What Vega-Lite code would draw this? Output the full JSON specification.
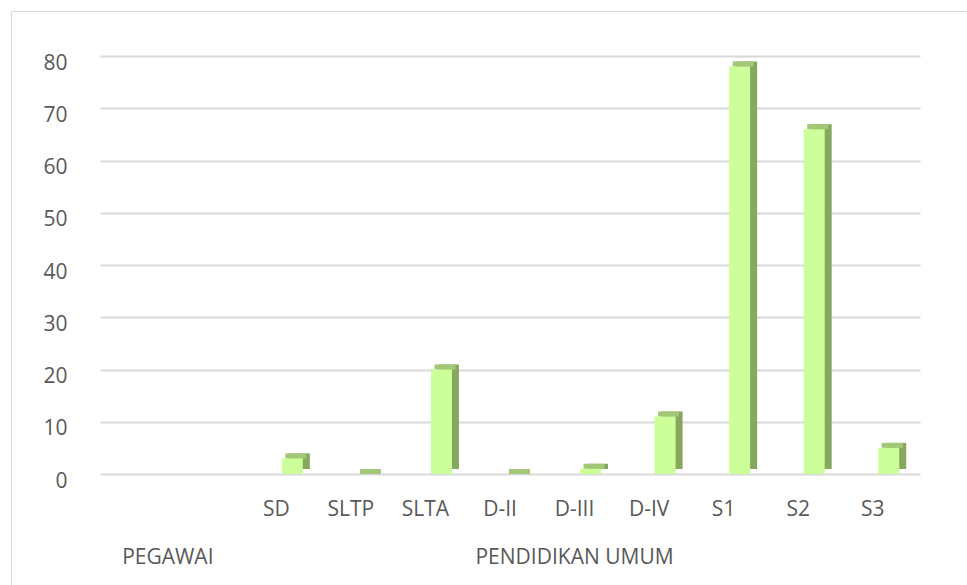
{
  "$schema": "https://vega.github.io/schema/vega-lite/v6.json",
  "autosize": {"type": "none"},
  "padding": {"left": 11, "top": 11, "right": 0, "bottom": 0},
  "width": 956,
  "height": 574,
  "background": "white",
  "config": {
    "view": {"stroke": "#d9d9d9", "strokeWidth": 1},
    "font": "Open Sans",
    "axis": {
      "labelFont": "Open Sans",
      "labelFontSize": 21,
      "labelColor": "#595959",
      "labelLimit": 0,
      "domain": false,
      "ticks": false,
      "tickSize": 0,
      "title": null,
      "labelOverlap": false
    }
  },
  "data": {
    "values": [
      {"kategori": "SD", "jumlah": 3},
      {"kategori": "SLTP", "jumlah": 0},
      {"kategori": "SLTA", "jumlah": 20},
      {"kategori": "D-II", "jumlah": 0},
      {"kategori": "D-III", "jumlah": 1},
      {"kategori": "D-IV", "jumlah": 11},
      {"kategori": "S1", "jumlah": 78},
      {"kategori": "S2", "jumlah": 66},
      {"kategori": "S3", "jumlah": 5}
    ]
  },
  "encoding": {
    "x": {
      "field": "kategori", "type": "nominal",
      "scale": {"domain": ["P1", "P2", "SD", "SLTP", "SLTA", "D-II", "D-III", "D-IV", "S1", "S2", "S3"], "range": [89, 909], "paddingInner": 0, "paddingOuter": 0},
      "axis": {
        "orient": "bottom", "offset": -111,
        "values": ["P2", "SD", "SLTP", "SLTA", "D-II", "D-III", "D-IV", "S1", "S2", "S3"],
        "labelExpr": "datum.value == 'P2' ? ['', 'PEGAWAI'] : datum.value == 'D-III' ? ['D-III', 'PENDIDIKAN UMUM'] : datum.value",
        "labelLineHeight": 48, "labelPadding": 24,
        "labelOffset": {"condition": {"test": "datum.value == 'P2'", "value": -44}, "value": -10},
        "labelAngle": 0, "grid": false
      }
    },
    "y": {
      "field": "jumlah", "type": "quantitative",
      "scale": {"domain": [0, 80], "range": [463, 45], "nice": false, "zero": true},
      "axis": {"orient": "left", "offset": -89, "values": [0, 10, 20, 30, 40, 50, 60, 70, 80], "grid": true, "gridColor": "#d9d9d9", "gridWidth": 2, "labelPadding": 33, "labelOffset": 7}
    }
  },
  "layer": [
    {
      "mark": {"type": "bar", "width": 21, "xOffset": 13, "yOffset": -5, "color": "#86a85e"}
    },
    {
      "mark": {"type": "bar", "width": 21, "xOffset": 9.5, "yOffset": -5, "y2Offset": 0, "color": "#a2c877"},
      "encoding": {
        "y2": {"field": "jumlah"}
      }
    },
    {
      "mark": {"type": "bar", "width": 21, "xOffset": 6, "color": "#ccff99"}
    }
  ]
}
